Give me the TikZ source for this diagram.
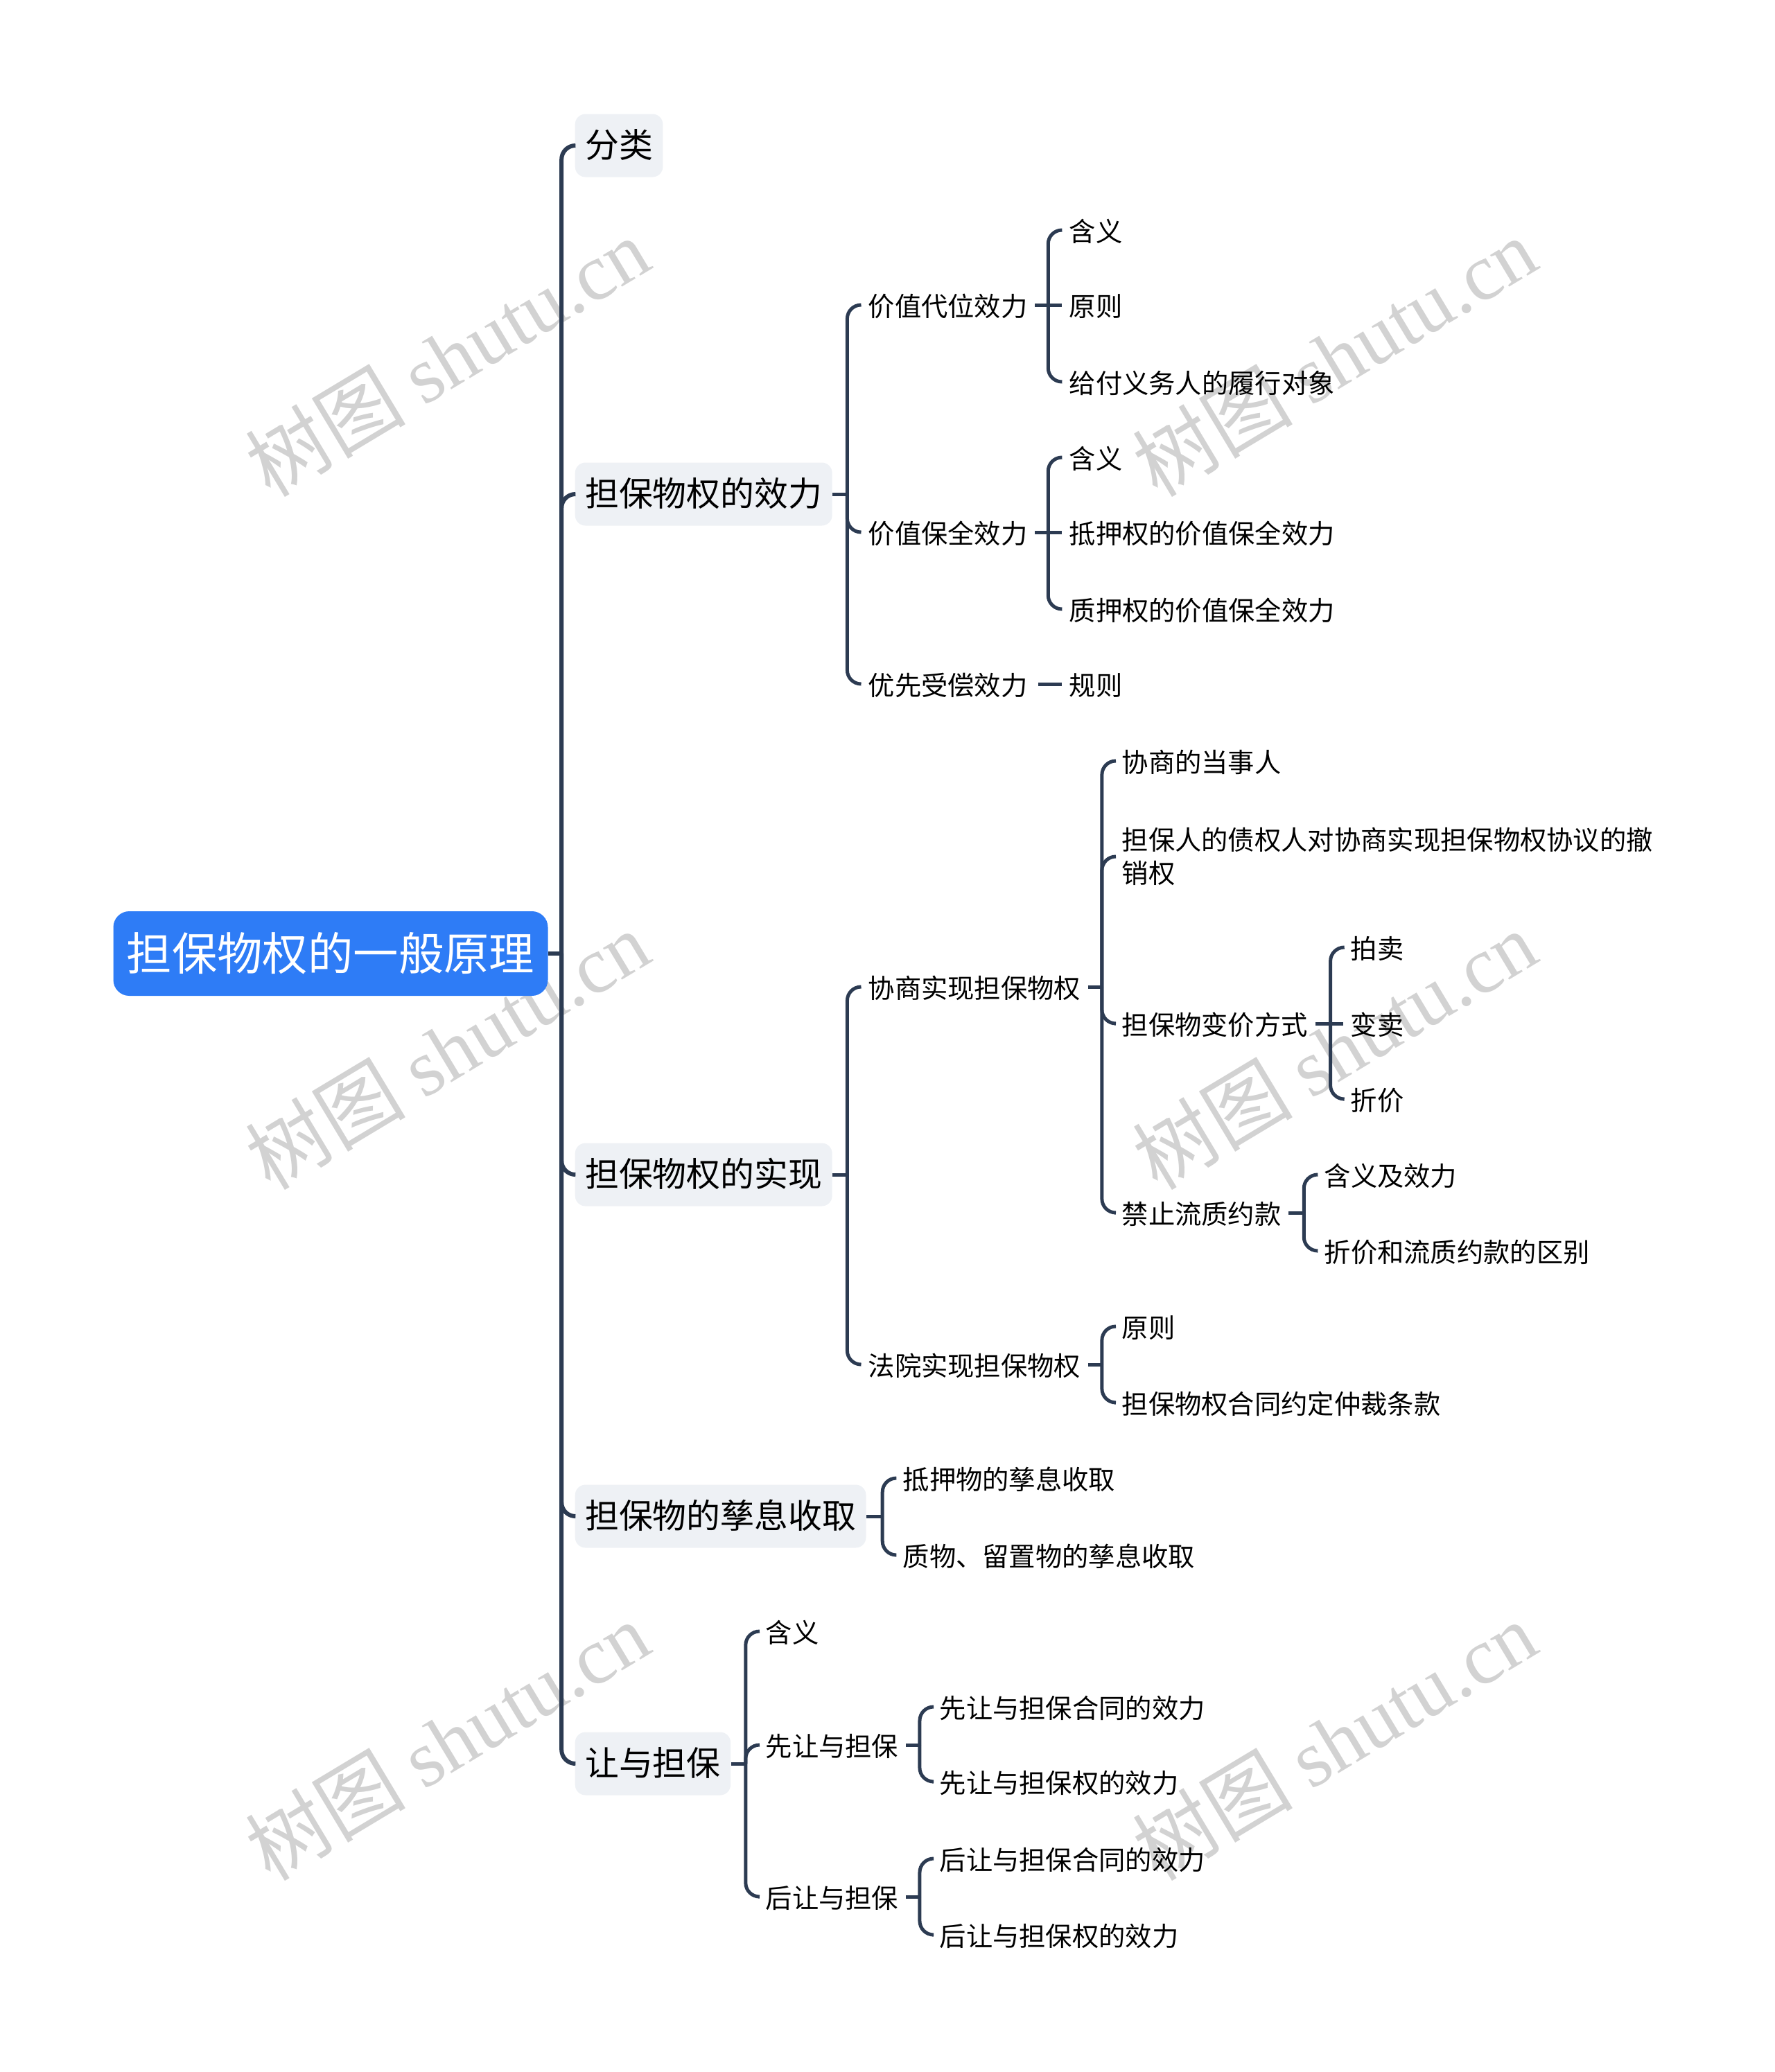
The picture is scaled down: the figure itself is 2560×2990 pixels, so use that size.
\documentclass[tikz,border=0pt]{standalone}
\usepackage{fontspec}
\setmainfont{Noto Sans CJK SC}
\newfontfamily\wmlatin{Liberation Serif}
\usetikzlibrary{calc}
\definecolor{rootblue}{HTML}{2E7CF6}
\definecolor{boxgray}{HTML}{EEF1F5}
\definecolor{linkgray}{HTML}{2C3B52}
\definecolor{wmgray}{HTML}{D2D2D2}
\begin{document}
\begin{tikzpicture}[x=0.1mm,y=-0.1mm]
    \tikzstyle{every node}+=[inner sep=0pt]
    \tikzstyle{rootbox}=[fill=rootblue,text=white,rounded corners=2.3mm,minimum width=62.7mm,minimum height=12.2mm,font=\fontsize{18.6pt}{22pt}\selectfont]
    \tikzstyle{mainbox}=[fill=boxgray,rounded corners=1.5mm,anchor=west,inner xsep=1.45mm,minimum height=9.1mm,text height=1em,text depth=0em,font=\fontsize{13.9pt}{16pt}\selectfont]
    \tikzstyle{leaf}=[anchor=west,inner xsep=1mm,text height=.96em,text depth=.04em,font=\fontsize{10.9pt}{13pt}\selectfont]
    \tikzstyle{link}=[linkgray,line width=0.5mm,rounded corners=2mm]
    \tikzstyle{trunk}=[linkgray,line width=0.6mm,rounded corners=2mm]
    \tikzstyle{wmark}=[text=wmgray,rotate=31,font=\fontsize{33pt}{36pt}\selectfont]
    \useasboundingbox (0,0) rectangle (2560,2990);
    \node[wmark] (wm1) at (645,515) {树图 {\wmlatin shutu.cn}};
    \node[wmark] (wm2) at (1925,515) {树图 {\wmlatin shutu.cn}};
    \node[wmark] (wm3) at (645,1515) {树图 {\wmlatin shutu.cn}};
    \node[wmark] (wm4) at (1925,1515) {树图 {\wmlatin shutu.cn}};
    \node[wmark] (wm5) at (645,2512) {树图 {\wmlatin shutu.cn}};
    \node[wmark] (wm6) at (1925,2512) {树图 {\wmlatin shutu.cn}};
    \node[rootbox] (root) at (477,1376) {担保物权的一般原理};
    \node[mainbox] (fenlei) at (829,210) {分类};
    \node[mainbox] (xiaoli) at (829,713) {担保物权的效力};
    \node[mainbox] (shixian) at (829,1695) {担保物权的实现};
    \node[mainbox] (zixi) at (829,2188) {担保物的孳息收取};
    \node[mainbox] (rangyu) at (829,2545) {让与担保};
    \node[leaf] (jzdw) at (1242,440) {价值代位效力};
    \node[leaf] (jzbq) at (1242,768) {价值保全效力};
    \node[leaf] (yxsc) at (1242,987) {优先受偿效力};
    \node[leaf] (dwhy) at (1532,332) {含义};
    \node[leaf] (dwyz) at (1532,440) {原则};
    \node[leaf] (dwdx) at (1532,551) {给付义务人的履行对象};
    \node[leaf] (bqhy) at (1532,660) {含义};
    \node[leaf] (bqdy) at (1532,768) {抵押权的价值保全效力};
    \node[leaf] (bqzy) at (1532,879) {质押权的价值保全效力};
    \node[leaf] (scgz) at (1532,987) {规则};
    \node[leaf] (xssx) at (1242,1424) {协商实现担保物权};
    \node[leaf] (fysx) at (1242,1969) {法院实现担保物权};
    \node[leaf] (xsdsr) at (1608,1098) {协商的当事人};
    \node[anchor=west,inner xsep=1mm,align=left,font=\fontsize{10.9pt}{13.7pt}\selectfont] (xscxq) at (1608,1236) {担保人的债权人对协商实现担保物权协议的撤\\销权};
    \node[leaf] (bjfs) at (1608,1477) {担保物变价方式};
    \node[leaf] (jzlz) at (1608,1750) {禁止流质约款};
    \node[leaf] (paimai) at (1938,1367) {拍卖};
    \node[leaf] (bianmai) at (1938,1477) {变卖};
    \node[leaf] (zhejia) at (1938,1586) {折价};
    \node[leaf] (lzhy) at (1900,1695) {含义及效力};
    \node[leaf] (lzqb) at (1900,1805) {折价和流质约款的区别};
    \node[leaf] (fyyz) at (1608,1914) {原则};
    \node[leaf] (fytk) at (1608,2024) {担保物权合同约定仲裁条款};
    \node[leaf] (dyzx) at (1292,2133) {抵押物的孳息收取};
    \node[leaf] (zwzx) at (1292,2244) {质物、留置物的孳息收取};
    \node[leaf] (ryhy) at (1094,2354) {含义};
    \node[leaf] (xrdb) at (1094,2518) {先让与担保};
    \node[leaf] (hrdb) at (1094,2737) {后让与担保};
    \node[leaf] (xrht) at (1345,2463) {先让与担保合同的效力};
    \node[leaf] (xrq) at (1345,2571) {先让与担保权的效力};
    \node[leaf] (hrht) at (1345,2682) {后让与担保合同的效力};
    \node[leaf] (hrq) at (1345,2792) {后让与担保权的效力};
    \coordinate (rootb) at ($(root.east)+(19,0)$);
    \coordinate (xiaolib) at ($(xiaoli.east)+(21,0)$);
    \coordinate (shixianb) at ($(shixian.east)+(21,0)$);
    \coordinate (zixib) at ($(zixi.east)+(23,0)$);
    \coordinate (rangyub) at ($(rangyu.east)+(21,0)$);
    \coordinate (jzdwb) at ($(jzdw.east)+(19,0)$);
    \coordinate (jzbqb) at ($(jzbq.east)+(19,0)$);
    \coordinate (xssxb) at ($(xssx.east)+(20,0)$);
    \coordinate (fysxb) at ($(fysx.east)+(20,0)$);
    \coordinate (bjfsb) at ($(bjfs.east)+(22,0)$);
    \coordinate (jzlzb) at ($(jzlz.east)+(22,0)$);
    \coordinate (xrdbb) at ($(xrdb.east)+(20,0)$);
    \coordinate (hrdbb) at ($(hrdb.east)+(20,0)$);
    \draw[trunk] (root.east) -- (rootb);
    \draw[trunk] (rootb) |- (fenlei.west);
    \draw[trunk] (rootb) |- (xiaoli.west);
    \draw[trunk] (rootb) |- (shixian.west);
    \draw[trunk] (rootb) |- (zixi.west);
    \draw[trunk] (rootb) |- (rangyu.west);
    \draw[link] (xiaoli.east) -- (xiaolib);
    \draw[link] (xiaolib) |- (jzdw.west);
    \draw[link] (xiaolib) |- (jzbq.west);
    \draw[link] (xiaolib) |- (yxsc.west);
    \draw[link] (jzdw.east) -- (jzdwb);
    \draw[link] (jzdwb) |- (dwhy.west);
    \draw[link] (jzdwb) -- (dwyz.west);
    \draw[link] (jzdwb) |- (dwdx.west);
    \draw[link] (jzbq.east) -- (jzbqb);
    \draw[link] (jzbqb) |- (bqhy.west);
    \draw[link] (jzbqb) -- (bqdy.west);
    \draw[link] (jzbqb) |- (bqzy.west);
    \draw[link] ([xshift=0.5mm]yxsc.east) -- (scgz.west);
    \draw[link] (shixian.east) -- (shixianb);
    \draw[link] (shixianb) |- (xssx.west);
    \draw[link] (shixianb) |- (fysx.west);
    \draw[link] (xssx.east) -- (xssxb);
    \draw[link] (xssxb) |- (xsdsr.west);
    \draw[link] (xssxb) |- (xscxq.west);
    \draw[link] (xssxb) |- (bjfs.west);
    \draw[link] (xssxb) |- (jzlz.west);
    \draw[link] (bjfs.east) -- (bjfsb);
    \draw[link] (bjfsb) |- (paimai.west);
    \draw[link] (bjfsb) -- (bianmai.west);
    \draw[link] (bjfsb) |- (zhejia.west);
    \draw[link] (jzlz.east) -- (jzlzb);
    \draw[link] (jzlzb) |- (lzhy.west);
    \draw[link] (jzlzb) |- (lzqb.west);
    \draw[link] (fysx.east) -- (fysxb);
    \draw[link] (fysxb) |- (fyyz.west);
    \draw[link] (fysxb) |- (fytk.west);
    \draw[link] (zixi.east) -- (zixib);
    \draw[link] (zixib) |- (dyzx.west);
    \draw[link] (zixib) |- (zwzx.west);
    \draw[link] (rangyu.east) -- (rangyub);
    \draw[link] (rangyub) |- (ryhy.west);
    \draw[link] (rangyub) |- (xrdb.west);
    \draw[link] (rangyub) |- (hrdb.west);
    \draw[link] (xrdb.east) -- (xrdbb);
    \draw[link] (xrdbb) |- (xrht.west);
    \draw[link] (xrdbb) |- (xrq.west);
    \draw[link] (hrdb.east) -- (hrdbb);
    \draw[link] (hrdbb) |- (hrht.west);
    \draw[link] (hrdbb) |- (hrq.west);
\end{tikzpicture}
\end{document}
